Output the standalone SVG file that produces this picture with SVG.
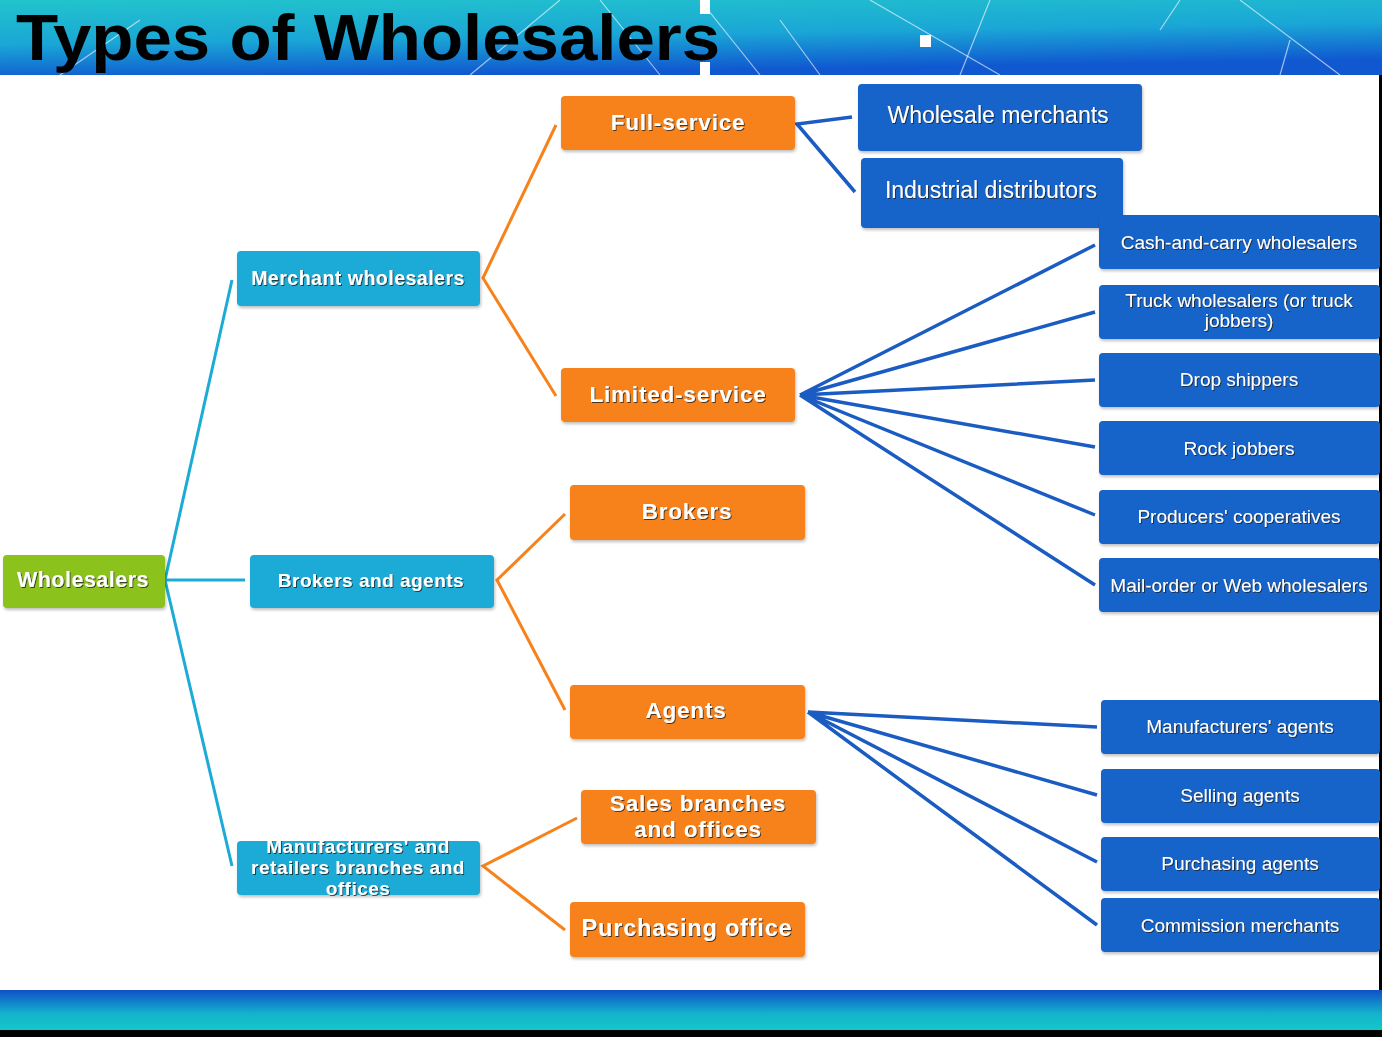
<svg xmlns="http://www.w3.org/2000/svg" width="1382" height="1037" viewBox="0 0 1382 1037">
<defs>
<linearGradient id="hdr" x1="0" y1="0" x2="0.3" y2="1">
<stop offset="0" stop-color="#22c4cc"/>
<stop offset="0.55" stop-color="#1aa6d6"/>
<stop offset="1" stop-color="#1058d0"/>
</linearGradient>
<linearGradient id="ftr" x1="0" y1="0" x2="0" y2="1">
<stop offset="0" stop-color="#1050c8"/>
<stop offset="0.6" stop-color="#14b4cc"/>
<stop offset="1" stop-color="#12c8c8"/>
</linearGradient>
<filter id="ts" x="-10%" y="-20%" width="120%" height="140%">
<feDropShadow dx="1" dy="1" stdDeviation="0.6" flood-color="#202020" flood-opacity="0.8"/>
</filter>
<filter id="bs" x="-5%" y="-10%" width="110%" height="130%">
<feDropShadow dx="1" dy="2" stdDeviation="1.5" flood-color="#000" flood-opacity="0.25"/>
</filter>
</defs>
<style>
.green{fill:#8cc21e}
.cyan{fill:#1cabd6}
.orange{fill:#f7821c}
.blue{fill:#1664ca}
.box{filter:url(#bs)}
.t{font-family:"Liberation Sans",Arial,sans-serif;fill:#fff;text-anchor:middle;filter:url(#ts)}
.b{font-weight:bold;font-size:20px;letter-spacing:0.5px}
.o{font-weight:bold;font-size:22.5px;letter-spacing:0.8px}
.r{font-size:23px}
.s{font-size:19px}
.cc{fill:none;stroke:#1cabd6;stroke-width:3}
.co{fill:none;stroke:#f7821c;stroke-width:3}
.cb{fill:none;stroke:#1a5cc2;stroke-width:3.5}
</style>
<rect width="1382" height="1037" fill="#fff"/>
<g id="header">
<rect x="0" y="0" width="1382" height="75" fill="url(#hdr)"/>
<g stroke="#fff" stroke-opacity="0.6" stroke-width="1.2" fill="none">
<line x1="560" y1="0" x2="470" y2="75"/>
<line x1="600" y1="0" x2="660" y2="75"/>
<line x1="700" y1="0" x2="760" y2="75"/>
<line x1="780" y1="20" x2="820" y2="75"/>
<line x1="870" y1="0" x2="1000" y2="75"/>
<line x1="990" y1="0" x2="960" y2="75"/>
<line x1="1180" y1="0" x2="1160" y2="30"/>
<line x1="1240" y1="0" x2="1340" y2="75"/>
<line x1="1290" y1="40" x2="1280" y2="75"/>
<line x1="60" y1="75" x2="140" y2="20"/>
</g>
<rect x="700" y="0" width="10" height="14" fill="#fff"/>
<rect x="920" y="35" width="11" height="12" fill="#fff"/>
<rect x="700" y="62" width="10" height="13" fill="#fff"/>
<text x="16" y="60" font-family="Liberation Sans,Arial,sans-serif" font-weight="bold" font-size="64" fill="#000" textLength="704" lengthAdjust="spacingAndGlyphs">Types of Wholesalers</text>
</g>
<g id="footer">
<rect x="0" y="990" width="1382" height="40" fill="url(#ftr)"/>
<rect x="0" y="1030" width="1382" height="7" fill="#000"/>
<rect x="1379" y="75" width="3" height="915" fill="#000"/>
</g>
<g id="connectors">
<path class="cc" d="M165 580 L232 280 M165 580 L245 580 M165 580 L232 866"/>
<path class="co" d="M556 125 L483 278 L556 396"/>
<path class="co" d="M565 514 L497 580 L565 710"/>
<path class="co" d="M577 818 L483 866 L565 930"/>
<path class="cb" d="M852 117 L797 124 L855 192"/>
<path class="cb" d="M1095 245 L800 395 M1095 312 L800 395 M1095 380 L800 395 M1095 447 L800 395 M1095 515 L800 395 M1095 585 L800 395"/>
<path class="cb" d="M1097 727 L808 712 M1097 795 L808 712 M1097 862 L808 712 M1097 925 L808 712"/>
</g>
<g id="n-wholesalers"><rect class="box green" x="3" y="555" width="162" height="53" rx="4"/><text class="t b" x="83" y="587" style="font-size:21.5px">Wholesalers</text></g>
<g id="n-merchant"><rect class="box cyan" x="237" y="251" width="243" height="55" rx="4"/><text class="t b" x="358" y="285" style="font-size:19.5px">Merchant wholesalers</text></g>
<g id="n-brokers-agents"><rect class="box cyan" x="250" y="555" width="244" height="53" rx="4"/><text class="t b" x="371" y="587" style="font-size:19px">Brokers and agents</text></g>
<g id="n-manufacturers"><rect class="box cyan" x="237" y="841" width="243" height="54" rx="4"/><text class="t b" style="font-size:19px" x="358" y="853">Manufacturers' and</text><text class="t b" style="font-size:19px" x="358" y="874">retailers branches and</text><text class="t b" style="font-size:19px" x="358" y="895">offices</text></g>
<g id="n-full"><rect class="box orange" x="561" y="96" width="234" height="54" rx="4"/><text class="t o" x="678" y="130">Full-service</text></g>
<g id="n-limited"><rect class="box orange" x="561" y="368" width="234" height="54" rx="4"/><text class="t o" x="678" y="402">Limited-service</text></g>
<g id="n-brokers"><rect class="box orange" x="570" y="485" width="235" height="55" rx="4"/><text class="t o" x="687" y="519">Brokers</text></g>
<g id="n-agents"><rect class="box orange" x="570" y="685" width="235" height="54" rx="4"/><text class="t o" x="686" y="718">Agents</text></g>
<g id="n-sales"><rect class="box orange" x="581" y="790" width="235" height="54" rx="4"/><text class="t o" x="698" y="811">Sales branches</text><text class="t o" x="698" y="837">and offices</text></g>
<g id="n-purchasing-office"><rect class="box orange" x="570" y="902" width="235" height="55" rx="4"/><text class="t o" x="687" y="936" style="font-size:23.5px">Purchasing office</text></g>
<g id="n-wholesale-merchants"><rect class="box blue" x="858" y="84" width="284" height="67" rx="4"/><text class="t r" x="998" y="123">Wholesale merchants</text></g>
<g id="n-industrial"><rect class="box blue" x="861" y="158" width="262" height="70" rx="4"/><text class="t r" x="991" y="198">Industrial distributors</text></g>
<g id="n-cash"><rect class="box blue" x="1099" y="215" width="281" height="54" rx="4"/><text class="t s" x="1239" y="249">Cash-and-carry  wholesalers</text></g>
<g id="n-truck"><rect class="box blue" x="1099" y="285" width="281" height="54" rx="4"/><text class="t s" x="1239" y="307">Truck wholesalers (or truck</text><text class="t s" x="1239" y="327">jobbers)</text></g>
<g id="n-drop"><rect class="box blue" x="1099" y="353" width="281" height="54" rx="4"/><text class="t s" x="1239" y="386">Drop shippers</text></g>
<g id="n-rock"><rect class="box blue" x="1099" y="421" width="281" height="54" rx="4"/><text class="t s" x="1239" y="455">Rock jobbers</text></g>
<g id="n-producers"><rect class="box blue" x="1099" y="490" width="281" height="54" rx="4"/><text class="t s" x="1239" y="523">Producers' cooperatives</text></g>
<g id="n-mail"><rect class="box blue" x="1099" y="558" width="281" height="54" rx="4"/><text class="t s" x="1239" y="592">Mail-order or Web wholesalers</text></g>
<g id="n-manu-agents"><rect class="box blue" x="1101" y="700" width="279" height="54" rx="4"/><text class="t s" x="1240" y="733">Manufacturers'  agents</text></g>
<g id="n-selling"><rect class="box blue" x="1101" y="769" width="279" height="54" rx="4"/><text class="t s" x="1240" y="802">Selling agents</text></g>
<g id="n-purchasing-agents"><rect class="box blue" x="1101" y="837" width="279" height="54" rx="4"/><text class="t s" x="1240" y="870">Purchasing agents</text></g>
<g id="n-commission"><rect class="box blue" x="1101" y="898" width="279" height="54" rx="4"/><text class="t s" x="1240" y="932">Commission merchants</text></g>
</svg>
